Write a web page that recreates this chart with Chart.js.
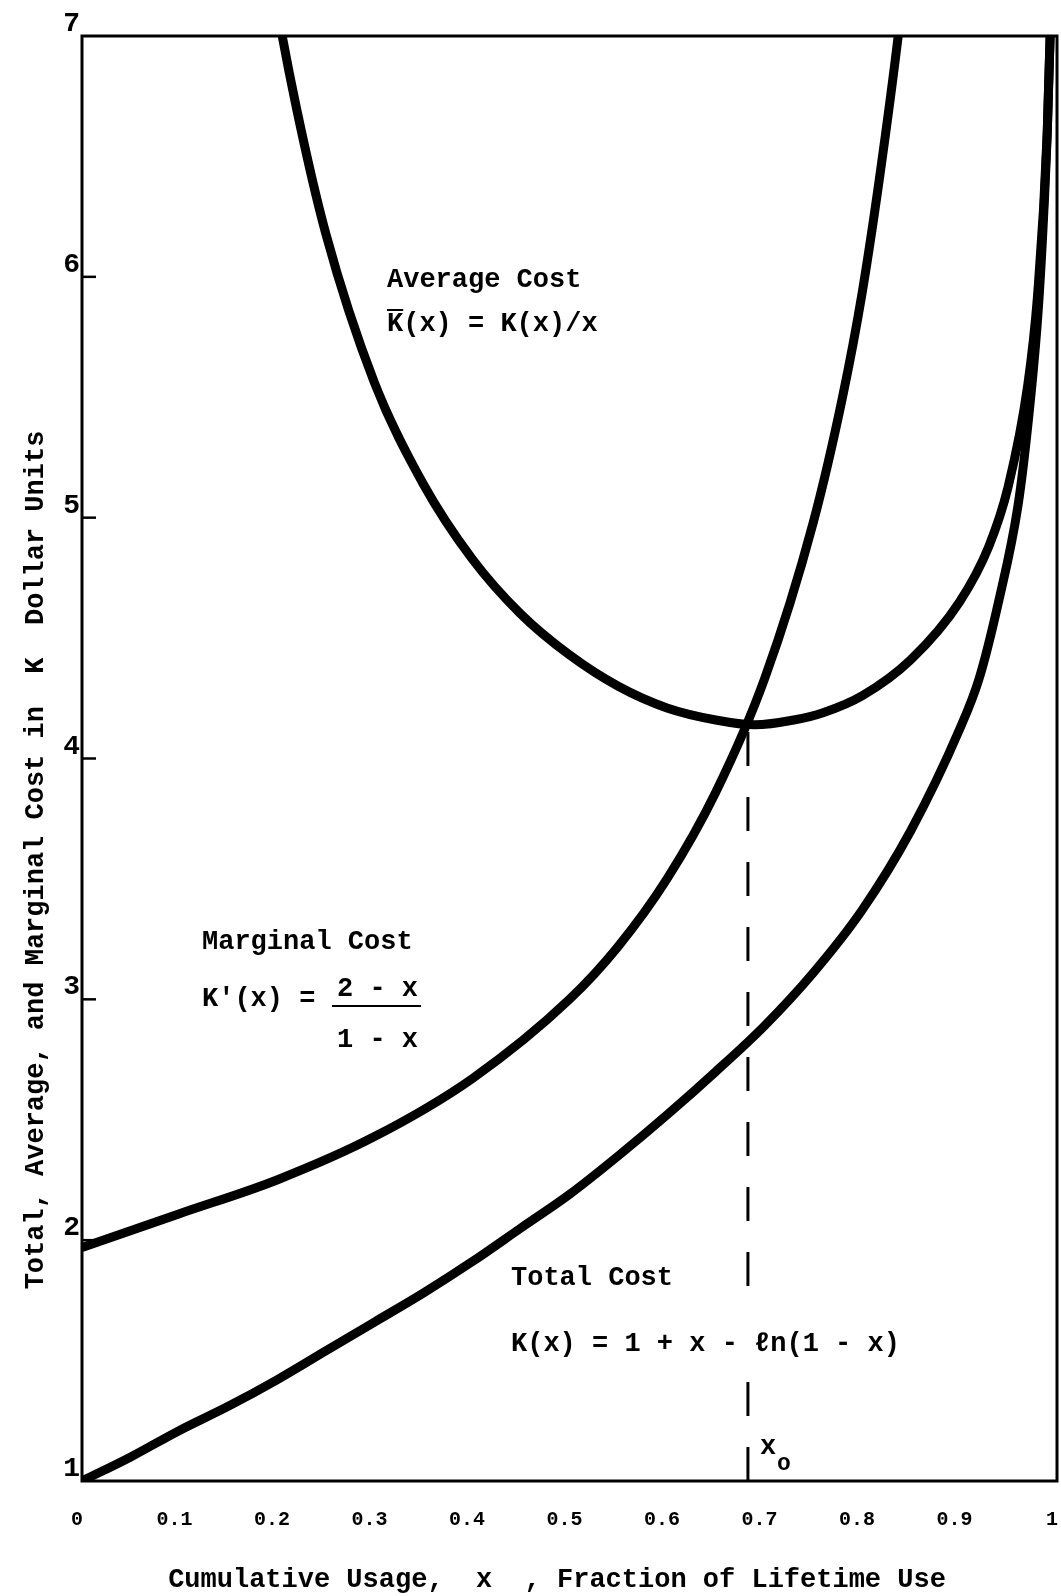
<!DOCTYPE html>
<html>
<head>
<meta charset="utf-8">
<script src="https://cdn.jsdelivr.net/npm/chart.js@4.4.0/dist/chart.umd.min.js"></script>
<style>
  html, body { margin: 0; padding: 0; background: #fff; }
  #costChart { display: block; }
</style>
</head>
<body>
<canvas id="costChart" width="1061" height="1596"></canvas>
<script>
// values (x = fraction of lifetime use)
const usageTotal = [0, 0.05, 0.1, 0.15, 0.2, 0.25, 0.3, 0.35, 0.4, 0.45, 0.5, 0.55, 0.6, 0.65, 0.7, 0.75, 0.8, 0.85, 0.9, 0.92, 0.94, 0.96, 0.97, 0.98, 0.985, 0.99, 0.995];
const totalCost = [1.00, 1.10, 1.21, 1.31, 1.42, 1.54, 1.66, 1.78, 1.91, 2.05, 2.19, 2.35, 2.52, 2.70, 2.89, 3.11, 3.37, 3.70, 4.12, 4.33, 4.65, 5.05, 5.38, 5.82, 6.15, 6.60, 7.29];

const usageMarginal = [0, 0.1, 0.2, 0.3, 0.4, 0.5, 0.55, 0.6, 0.65, 0.7, 0.75, 0.78, 0.8, 0.82, 0.84, 0.86];
const marginalCost = [1.97, 2.11, 2.25, 2.43, 2.67, 3.00, 3.22, 3.50, 3.86, 4.33, 4.98, 5.50, 5.93, 6.47, 7.10, 7.90];

const usageAverage = [0.19, 0.2, 0.22, 0.25, 0.3, 0.35, 0.4, 0.45, 0.5, 0.55, 0.6, 0.65, 0.69, 0.73, 0.76, 0.8, 0.85, 0.9, 0.93, 0.95, 0.97, 0.98, 0.99, 0.995];
const averageCost = [7.37, 7.12, 6.70, 6.18, 5.56, 5.14, 4.83, 4.60, 4.43, 4.30, 4.21, 4.16, 4.14, 4.16, 4.19, 4.26, 4.41, 4.65, 4.88, 5.13, 5.55, 5.92, 6.60, 7.30];

// x0 marker, from the axis up to the average/marginal crossing
const optimumUsage = [0.683, 0.683];
const optimumCost = [1, 4.13];

const xTickLabels = ['0', '0.1', '0.2', '0.3', '0.4', '0.5', '0.6', '0.7', '0.8', '0.9', '1'];
const yTickLabels = ['1', '2', '3', '4', '5', '6', '7'];

const MONO = "'Liberation Mono', 'DejaVu Sans Mono', monospace";

function toPoints(xs, ys) {
    return xs.map((x, i) => ({x: x, y: ys[i]}));
}

function curve(label, xs, ys) {
    return {
        label: label,
        data: toPoints(xs, ys),
        borderColor: '#000',
        borderWidth: 9,
        pointRadius: 0,
        cubicInterpolationMode: 'monotone',
        clip: 0,
        fill: false
    };
}

const notesPlugin = {
    id: 'notes',
    afterDraw(chart) {
        const ctx = chart.ctx;
        const area = chart.chartArea;
        const yScale = chart.scales.y;
        ctx.save();

        // frame
        ctx.strokeStyle = '#000';
        ctx.lineWidth = 3;
        ctx.strokeRect(area.left, area.top, area.right - area.left, area.bottom - area.top);

        // short inside ticks on the value axis
        ctx.lineWidth = 2.5;
        for (let v = 2; v <= 6; v++) {
            const py = yScale.getPixelForValue(v);
            ctx.beginPath();
            ctx.moveTo(area.left, py);
            ctx.lineTo(area.left + 14, py);
            ctx.stroke();
        }

        ctx.fillStyle = '#000';
        ctx.textBaseline = 'middle';
        ctx.textAlign = 'left';
        ctx.font = 'bold 27px ' + MONO;

        ctx.fillText('Average Cost', 387, 280);
        ctx.fillText('K(x) = K(x)/x', 387, 324);
        const kw = ctx.measureText('K').width;
        ctx.lineWidth = 2;
        ctx.beginPath();
        ctx.moveTo(387, 310);
        ctx.lineTo(387 + kw, 310);
        ctx.stroke();

        ctx.fillText('Marginal Cost', 202, 942);
        ctx.fillText("K'(x) =", 202, 999);
        ctx.fillText('2 - x', 337, 989);
        ctx.fillText('1 - x', 337, 1040);
        ctx.beginPath();
        ctx.moveTo(332, 1006);
        ctx.lineTo(421, 1006);
        ctx.stroke();

        ctx.fillText('Total Cost', 511, 1278);
        // the typed formula interrupts the x0 dashes
        ctx.fillStyle = '#fff';
        ctx.fillRect(720, 1290, 60, 90);
        ctx.fillStyle = '#000';
        ctx.fillText('K(x) = 1 + x - \u2113n(1 - x)', 511, 1344);

        ctx.fillText('x', 760, 1447);
        ctx.font = 'bold 23px ' + MONO;
        ctx.fillText('o', 777, 1464);

        // axis titles
        ctx.font = 'bold 27px ' + MONO;
        ctx.textAlign = 'center';
        ctx.fillText('Cumulative Usage,  x  , Fraction of Lifetime Use', 557, 1580);
        ctx.translate(36, 860);
        ctx.rotate(-Math.PI / 2);
        ctx.fillText('Total, Average, and Marginal Cost in  K  Dollar Units', 0, 0);

        ctx.restore();
    }
};

new Chart(document.getElementById('costChart').getContext('2d'), {
    type: 'line',
    data: {
        datasets: [
            curve('Total Cost', usageTotal, totalCost),
            curve('Marginal Cost', usageMarginal, marginalCost),
            curve('Average Cost', usageAverage, averageCost),
            {
                label: 'x0',
                data: toPoints(optimumUsage, optimumCost),
                borderColor: '#000',
                borderWidth: 3,
                borderDash: [34, 31],
                pointRadius: 0,
                clip: 0,
                fill: false
            }
        ]
    },
    options: {
        responsive: false,
        animation: false,
        events: [],
        layout: {padding: {top: 36, right: 4, left: 0, bottom: 0}},
        plugins: {
            legend: {display: false},
            tooltip: {enabled: false}
        },
        scales: {
            x: {
                type: 'linear',
                min: 0,
                max: 1,
                grid: {display: false, drawTicks: false},
                border: {display: false},
                ticks: {
                    stepSize: 0.1,
                    padding: 27,
                    labelOffset: -5,
                    color: '#000',
                    font: {family: MONO, size: 20, weight: 'bold'},
                    maxRotation: 0,
                    autoSkip: false,
                    callback: (value, index) => xTickLabels[index]
                },
                afterFit(scale) {
                    scale.height = 115;
                    scale.paddingLeft = 0;
                    scale.paddingRight = 0;
                }
            },
            y: {
                type: 'linear',
                min: 1,
                max: 7,
                grid: {display: false, drawTicks: false},
                border: {display: false},
                ticks: {
                    stepSize: 1,
                    padding: 2,
                    labelOffset: -12,
                    color: '#000',
                    font: {family: MONO, size: 28, weight: 'bold'},
                    callback: (value, index) => yTickLabels[index]
                },
                afterFit(scale) {
                    scale.width = 82;
                    scale.paddingTop = 0;
                    scale.paddingBottom = 0;
                }
            }
        }
    },
    plugins: [notesPlugin]
});
</script>
</body>
</html>
